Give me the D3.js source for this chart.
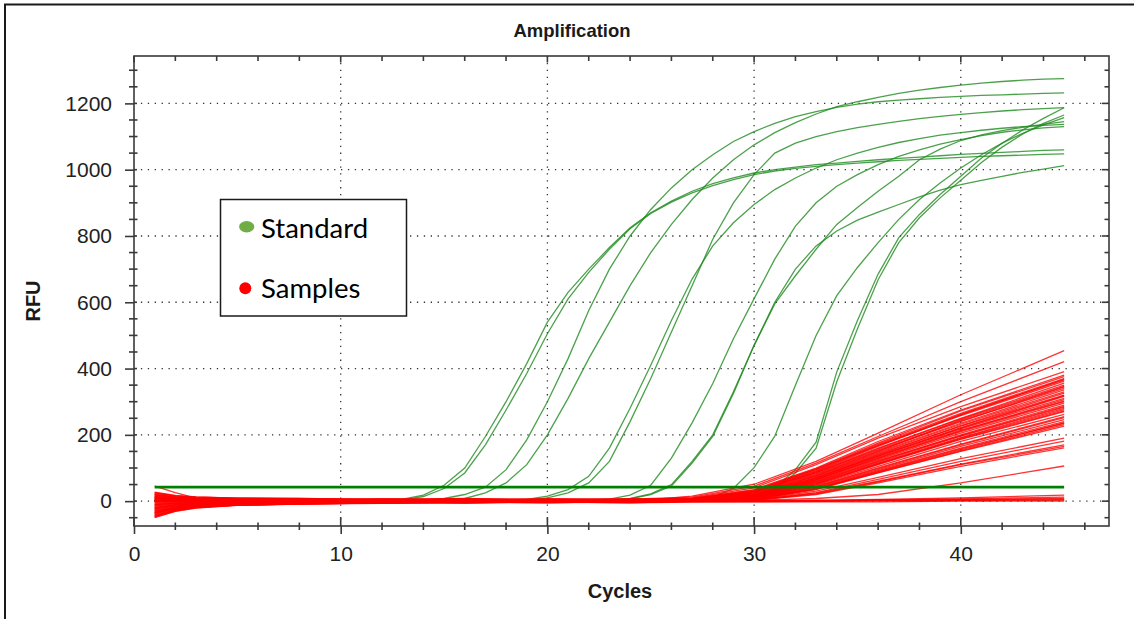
<!DOCTYPE html>
<html>
<head>
<meta charset="utf-8">
<script src="https://cdn.jsdelivr.net/npm/d3@7"></script>
<style>
  body { margin: 0; background: #fff; }
  svg { display: block; }
</style>
</head>
<body>
<div class="amp-chart"></div>
<script>
'use strict';

// cycles for the standard curves
const cycles = [1, 2, 3, 4, 5, 6, 7, 8, 9, 10, 11, 12, 13, 14, 15, 16, 17, 18, 19, 20,
  21, 22, 23, 24, 25, 26, 27, 28, 29, 30, 31, 32, 33, 34, 35, 36, 37, 38, 39, 40,
  41, 42, 43, 44, 45];

// standard (dilution series) RFU, one row per well
const standardCurves = [
  [2,1,0,1,2,0,1,2,1,0,1,2,1,0,1,2,1,0,1,2,1,0,2,1,0,1,2,1,0,1,2,1,0,1,2,3,2,1,2,3,2,3,4,3,4],
  [2,1,0,-1,1,0,2,1,0,1,2,3,6,18,48,100,195,300,415,540,630,700,765,825,870,905,935,958,975,990,1000,1008,1015,1020,1025,1030,1034,1038,1042,1046,1049,1052,1055,1058,1060],
  [1,0,2,0,-1,1,0,1,2,0,1,2,4,14,38,85,170,275,385,505,610,690,760,822,868,902,930,952,970,985,996,1004,1010,1015,1020,1024,1028,1031,1034,1037,1040,1042,1044,1046,1048],
  [0,1,-1,2,0,1,0,-1,1,2,0,1,2,3,8,20,42,95,185,300,430,575,700,800,880,945,1000,1045,1085,1115,1140,1160,1175,1188,1198,1205,1210,1214,1218,1221,1224,1226,1228,1230,1232],
  [1,0,1,-1,0,2,1,0,1,0,2,1,0,2,4,8,25,55,110,200,310,430,540,650,750,835,910,975,1030,1075,1112,1142,1168,1190,1205,1218,1230,1240,1248,1255,1261,1266,1270,1273,1275],
  [0,1,0,-1,1,0,2,0,1,0,-1,1,0,2,1,0,1,2,5,15,35,75,160,280,410,545,670,770,840,895,940,975,1005,1030,1050,1067,1082,1094,1104,1112,1119,1125,1130,1134,1137],
  [1,0,-1,0,2,1,0,1,-1,0,1,2,0,1,0,2,1,1,3,10,25,55,120,240,370,510,650,790,900,985,1050,1080,1100,1115,1127,1137,1146,1154,1161,1167,1172,1177,1181,1184,1187],
  [0,1,0,2,-1,0,1,0,1,2,0,-1,1,0,2,1,0,1,0,2,1,3,6,18,48,130,236,355,490,611,730,830,900,950,985,1015,1040,1060,1077,1091,1103,1113,1120,1126,1130],
  [1,0,2,0,1,-1,0,1,2,0,1,0,-1,1,0,2,1,0,1,2,0,1,3,8,22,50,120,200,330,470,600,700,770,815,848,872,895,918,938,955,968,980,992,1002,1012],
  [0,2,1,0,-1,1,0,2,1,0,1,2,0,1,-1,0,1,2,0,1,0,2,2,7,20,46,115,195,325,470,595,680,760,835,886,935,980,1030,1062,1088,1105,1118,1128,1137,1145],
  [1,0,1,2,0,-1,1,0,2,1,0,1,0,2,1,-1,0,1,2,0,1,0,2,1,0,3,5,12,38,101,196,350,500,620,705,780,850,910,960,1005,1045,1080,1110,1135,1157],
  [0,1,2,0,1,0,-1,1,2,0,1,0,2,1,0,1,-1,0,2,1,0,1,2,0,1,0,2,3,4,10,40,95,178,390,545,685,795,865,925,980,1035,1080,1120,1155,1187],
  [1,0,0,2,1,0,1,-1,0,2,1,0,1,0,2,1,0,1,0,2,1,-1,0,1,2,0,1,2,3,8,34,85,160,360,520,668,780,855,915,968,1022,1068,1108,1140,1165]
];

// cycles at which the sample curves are read
const sampleCycles = [1, 2, 3, 5, 8, 12, 16, 20, 24, 27, 30, 33, 36, 40, 45];

// unknown samples RFU
const sampleCurves = [
  [-48,-30,-20,-12,-9,-5,-2,-4,-1,15,51,120,205,321,454],
  [20,12,8,6,7,5,8,4,6,12,45,115,195,300,421],
  [-30,-18,-12,-8,-6,-3,-6,-1,2,10,40,110,190,285,391],
  [10,6,5,4,3,7,5,6,4,8,35,100,180,275,380],
  [-42,-26,-18,-12,-8,-6,-3,-2,0,8,33,98,175,272,376],
  [24,15,12,9,8,4,6,5,7,6,30,95,172,265,370],
  [-20,-12,-9,-6,-4,0,-5,-3,-1,6,28,90,165,260,368],
  [0,2,3,2,4,2,6,3,5,7,32,96,168,258,362],
  [-36,-22,-15,-10,-7,-4,-2,-5,-2,5,26,88,160,250,356],
  [14,9,7,5,5,6,2,5,3,5,25,85,158,248,350],
  [-26,-15,-10,-7,-5,-1,0,-3,-1,4,22,80,150,245,346],
  [6,4,3,3,2,5,3,7,6,6,27,86,155,242,340],
  [-45,-28,-19,-12,-8,-5,-2,-1,-3,4,20,78,148,235,336],
  [18,11,8,6,5,2,5,3,4,3,20,76,145,232,330],
  [-14,-8,-6,-4,-2,1,-3,0,-2,3,18,72,140,228,326],
  [-4,-2,0,1,3,3,6,2,4,4,21,75,142,226,320],
  [-33,-20,-14,-9,-6,-3,-5,-2,-4,2,16,68,135,220,316],
  [26,16,12,9,7,4,3,6,3,3,18,70,136,218,310],
  [-10,-6,-4,-2,0,4,1,-1,0,2,15,65,130,212,306],
  [2,2,1,3,2,6,4,2,3,2,14,64,128,210,300],
  [-40,-24,-16,-11,-7,-4,-3,-1,-4,2,14,62,125,205,296],
  [12,8,6,4,6,3,4,3,5,1,12,58,120,200,290],
  [-22,-13,-9,-6,-3,-2,-4,-2,0,2,13,60,122,198,286],
  [8,5,4,3,1,5,2,4,2,1,11,55,115,192,280],
  [-28,-17,-11,-8,-5,-3,0,-4,-2,1,10,52,112,190,276],
  [22,13,9,7,6,3,2,5,3,0,9,50,110,186,270],
  [-16,-10,-7,-5,-3,0,-2,-3,-1,1,9,48,105,180,262],
  [4,3,2,1,2,1,4,2,1,0,8,45,100,172,255],
  [-38,-23,-15,-10,-6,-6,-3,-2,-5,0,7,42,95,165,246],
  [16,10,8,6,5,4,2,1,3,0,6,40,92,160,240],
  [-8,-5,-3,-1,0,-2,1,-1,-3,-1,6,38,90,158,235],
  [-44,-27,-18,-11,-8,-5,-4,-3,-1,0,5,36,86,152,231],
  [27,17,13,9,8,5,6,3,2,0,5,35,85,150,226],
  [-18,-11,-7,-5,-2,-1,-4,0,-3,0,4,30,72,128,190],
  [-2,0,1,3,1,4,2,1,-2,-1,3,26,66,120,181],
  [-30,-19,-12,-8,-5,-3,-1,-4,-2,0,3,24,60,112,170],
  [11,7,5,4,3,2,4,2,1,0,2,20,55,105,161],
  [-24,-14,-9,-6,-4,-1,-3,-5,-1,0,2,8,20,55,106],
  [45,26,9,5,4,3,1,4,2,0,3,22,58,110,165],
  [-46,-28,-19,-12,-8,-4,-2,-1,0,6,29,92,168,262,366],
  [19,12,8,7,5,3,5,4,5,5,24,82,152,240,345],
  [-11,-6,-5,-3,-1,2,-2,-1,0,3,17,70,138,222,318],
  [1,1,2,2,3,4,1,3,2,2,15,66,132,214,302],
  [-34,-20,-13,-9,-6,-3,-1,-3,-2,1,12,57,118,196,284],
  [13,8,6,5,4,1,3,4,1,1,10,53,113,188,272],
  [-21,-12,-8,-6,-3,-1,-3,-4,-1,0,7,44,98,170,252],
  [7,4,3,3,2,3,4,1,2,0,6,38,88,155,236],
  [-12,-7,-5,-4,-2,-4,-1,-2,-4,-1,1,2,5,10,18],
  [5,3,2,2,1,3,-1,1,2,0,1,2,4,7,12],
  [-35,-21,-14,-9,-6,-4,-2,-3,-2,-2,-1,1,3,5,8],
  [9,6,4,3,3,1,3,-1,1,0,0,1,2,4,6],
  [-6,-3,-2,-1,-3,0,-2,0,-3,-1,0,0,1,2,3],
  [-50,-31,-21,-13,-9,-7,-5,-3,-5,-3,-3,-2,-2,0,0]
];

// threshold line
const thresholdRfu = 42;
const thresholdCycles = [1, 45];

// axes
const xTicks = [0, 10, 20, 30, 40];
const yTicks = [0, 200, 400, 600, 800, 1000, 1200];
const legendItems = ["Standard", "Samples"];

const W = 1134, H = 619;
const margin = {top: 56, left: 134, right: 25, bottom: 93};
const w = W - margin.left - margin.right;
const h = H - margin.top - margin.bottom;
const ink = "#3a3a3a";
const font = "'Liberation Sans', Arial, sans-serif";

const root = d3.select(".amp-chart")
  .append("svg")
  .attr("width", W)
  .attr("height", H);

// screenshot border (only left and top edges are in the crop)
root.append("path")
  .attr("d", `M5,${H} V4.5 H${W}`)
  .attr("fill", "none")
  .attr("stroke", "#1a1a1a")
  .attr("stroke-width", 2);

root.append("text")
  .attr("x", 572)
  .attr("y", 37)
  .attr("text-anchor", "middle")
  .style("font", `bold 18.5px ${font}`)
  .attr("fill", "#1a1a1a")
  .text("Amplification");

const svg = root.append("g")
  .attr("transform", `translate(${margin.left},${margin.top})`);

const x = d3.scaleLinear().domain([0, 47.17]).range([0, w]);
const y = d3.scaleLinear().domain([-75, 1343]).range([h, 0]);

// dotted grid
const grid = svg.append("g")
  .attr("stroke", "#333")
  .attr("stroke-width", 1.3)
  .attr("stroke-dasharray", "1.3 5.6");
grid.selectAll(".gx").data(xTicks.filter(d => d > 0)).enter()
  .append("line")
  .attr("x1", d => x(d)).attr("x2", d => x(d))
  .attr("y1", 0).attr("y2", h);
grid.selectAll(".gy").data(yTicks).enter()
  .append("line")
  .attr("x1", 0).attr("x2", w)
  .attr("y1", d => y(d)).attr("y2", d => y(d));

svg.append("clipPath").attr("id", "plot-clip")
  .append("rect").attr("width", w).attr("height", h);
const plot = svg.append("g").attr("clip-path", "url(#plot-clip)");

const line = d3.line()
  .x(d => x(d[0]))
  .y(d => y(d[1]));

plot.selectAll(".standard")
  .data(standardCurves.map(vals => vals.map((v, i) => [cycles[i], v])))
  .enter()
  .append("path")
  .attr("class", "standard")
  .attr("d", line)
  .attr("fill", "none")
  .attr("stroke", "#1e8a1e")
  .attr("stroke-opacity", 0.8)
  .attr("stroke-width", 1.3);

plot.selectAll(".sample")
  .data(sampleCurves.map(vals => vals.map((v, i) => [sampleCycles[i], v])))
  .enter()
  .append("path")
  .attr("class", "sample")
  .attr("d", line)
  .attr("fill", "none")
  .attr("stroke", "#ff0000")
  .attr("stroke-opacity", 0.8)
  .attr("stroke-width", 1.3);

plot.append("path")
  .datum(thresholdCycles.map(c => [c, thresholdRfu]))
  .attr("d", line)
  .attr("fill", "none")
  .attr("stroke", "#008000")
  .attr("stroke-width", 2.8);

// frame
svg.append("rect")
  .attr("width", w)
  .attr("height", h)
  .attr("fill", "none")
  .attr("stroke", ink)
  .attr("stroke-width", 1.6);

// axes with labels and outer half of major ticks
const xAxis = d3.axisBottom(x).tickValues(xTicks).tickSize(8).tickPadding(12);
const yAxis = d3.axisLeft(y).tickValues(yTicks).tickFormat(d3.format("d"))
  .tickSize(9).tickPadding(13);

svg.append("g")
  .attr("transform", `translate(0,${h})`)
  .call(xAxis)
  .call(g => g.select(".domain").remove());
svg.append("g")
  .call(yAxis)
  .call(g => g.select(".domain").remove());

svg.selectAll(".tick line").attr("stroke", ink).attr("stroke-width", 1.6);
svg.selectAll(".tick text")
  .style("font", `21px ${font}`)
  .attr("fill", "#222");

// remaining tick marks on the frame
const ticks = svg.append("g").attr("stroke", ink).attr("stroke-width", 1.6);
const xMinor = d3.range(2, 47, 2).filter(d => d % 10 !== 0);
const yMinor = d3.range(-50, 1301, 50).filter(d => d % 200 !== 0);

ticks.selectAll(".xin").data(xTicks).enter().append("line")
  .attr("x1", d => x(d)).attr("x2", d => x(d))
  .attr("y1", h - 9).attr("y2", h);
ticks.selectAll(".xmin").data(xMinor).enter().append("line")
  .attr("x1", d => x(d)).attr("x2", d => x(d))
  .attr("y1", h - 3.5).attr("y2", h + 4);
ticks.selectAll(".xtop").data(xTicks.concat(xMinor)).enter().append("line")
  .attr("x1", d => x(d)).attr("x2", d => x(d))
  .attr("y1", 0).attr("y2", d => d % 10 === 0 ? 6.5 : 5);
ticks.selectAll(".yin").data(yTicks).enter().append("line")
  .attr("x1", 0).attr("x2", 3)
  .attr("y1", d => y(d)).attr("y2", d => y(d));
ticks.selectAll(".ymin").data(yMinor).enter().append("line")
  .attr("x1", -5).attr("x2", 3.5)
  .attr("y1", d => y(d)).attr("y2", d => y(d));
ticks.selectAll(".yright").data(yTicks.concat(yMinor)).enter().append("line")
  .attr("x1", d => d % 200 === 0 ? w - 7 : w - 4.5).attr("x2", w)
  .attr("y1", d => y(d)).attr("y2", d => y(d));

// axis titles
root.append("text")
  .attr("transform", "translate(40,301) rotate(-90)")
  .attr("text-anchor", "middle")
  .style("font", `bold 20px ${font}`)
  .attr("fill", "#1a1a1a")
  .text("RFU");
root.append("text")
  .attr("x", 620)
  .attr("y", 598)
  .attr("text-anchor", "middle")
  .style("font", `bold 20px ${font}`)
  .attr("fill", "#1a1a1a")
  .text("Cycles");

// legend
const legend = root.append("g").attr("transform", "translate(220.5,199.5)");
legend.append("rect")
  .attr("width", 186)
  .attr("height", 116.5)
  .attr("fill", "#fff")
  .attr("stroke", "#1a1a1a")
  .attr("stroke-width", 1.5);
legend.append("ellipse")
  .attr("cx", 26.2).attr("cy", 27.2)
  .attr("rx", 7.6).attr("ry", 5.7)
  .attr("fill", "#70ad47");
legend.append("circle")
  .attr("cx", 24.8).attr("cy", 88.7)
  .attr("r", 6)
  .attr("fill", "#ff0000");
legend.selectAll(".ltext").data(legendItems).enter()
  .append("text")
  .attr("x", 40.5)
  .attr("y", (d, i) => 38.8 + i * 60)
  .style("font", "27.5px Lato, 'Open Sans', sans-serif")
  .attr("fill", "#000")
  .text(d => d);
</script>
</body>
</html>
